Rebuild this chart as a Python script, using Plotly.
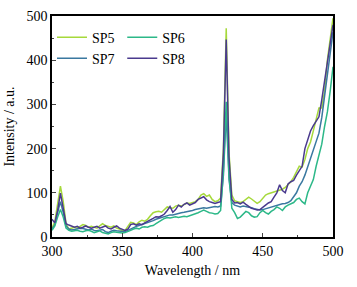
import plotly.graph_objects as go

wavelength = list(range(300, 501, 2))

sp5 = [20, 35, 75, 115, 80, 30, 18, 20, 22, 20, 25, 28, 26, 22, 24, 22, 20, 25, 30, 26,
       24, 22, 25, 20, 18, 14, 15, 25, 33, 32, 28, 34, 38, 36, 40, 48, 55, 57, 58, 56,
       62, 68, 66, 65, 70, 72, 70, 73, 77, 76, 78, 80, 85, 95, 98, 92, 95, 85, 80, 82,
       88, 200, 472, 190, 95, 82, 80, 78, 80, 85, 90, 86, 80, 76, 80, 88, 95, 98, 100, 102,
       104, 105, 108, 112, 118, 125, 135, 148, 160, 158, 175, 200, 215, 240, 270, 292, 292, 330, 400, 450,
       495]

sp6 = [15, 25, 45, 62, 45, 20, 15, 13, 14, 15, 13, 12, 14, 15, 13, 10, 12, 14, 10, 8,
       7, 10, 12, 11, 10, 9, 10, 12, 15, 18, 20, 18, 22, 23, 22, 25, 26, 30, 35, 38,
       42, 44, 43, 45, 46, 44, 45, 47, 46, 48, 50, 52, 55, 58, 61, 58, 55, 54, 52, 53,
       60, 150, 306, 140, 65, 55, 42, 45, 52, 58, 55, 48, 45, 46, 55, 60, 55, 52, 58, 62,
       68, 65, 60, 68, 72, 75, 78, 85, 88, 80, 75, 100, 117, 130, 160, 185, 210, 250, 283, 330,
       385]

sp7 = [18, 28, 55, 80, 55, 25, 18, 16, 17, 18, 20, 19, 17, 16, 18, 15, 14, 15, 17, 12,
       10, 13, 15, 14, 13, 12, 12, 15, 18, 22, 24, 26, 28, 30, 32, 35, 37, 40, 42, 44,
       47, 49, 50, 50, 52, 54, 55, 56, 57, 58, 60, 62, 63, 65, 66, 65, 66, 68, 69, 68,
       70, 140, 282, 130, 78, 72, 70, 68, 70, 69, 68, 66, 64, 62, 61, 62, 64, 66, 68, 70,
       72, 74, 75, 76, 78, 82, 90, 100, 115, 125, 140, 160, 177, 195, 215, 235, 270, 320, 358, 410,
       464]

sp8 = [40, 32, 60, 99, 65, 30, 27, 25, 22, 24, 20, 22, 25, 22, 20, 22, 24, 20, 22, 25,
       20, 18, 22, 25, 20, 17, 15, 18, 28, 30, 27, 30, 28, 32, 35, 38, 42, 46, 45, 48,
       52, 60, 69, 56, 62, 72, 68, 74, 77, 72, 75, 78, 85, 88, 91, 84, 80, 78, 76, 78,
       80, 190, 447, 180, 85, 77, 78, 75, 79, 74, 70, 65, 63, 61, 62, 66, 72, 77, 80, 90,
       100, 118, 105, 100, 120, 125, 128, 140, 150, 160, 200, 220, 240, 252, 262, 272, 310, 355, 400, 445,
       480]

series = [
    ("SP5", sp5, "#a6d93b", "legend"),
    ("SP7", sp7, "#3a78a0", "legend"),
    ("SP6", sp6, "#2cb888", "legend2"),
    ("SP8", sp8, "#4a3a8e", "legend2"),
]

fig = go.Figure()
for name, vals, color, leg in series:
    fig.add_trace(go.Scatter(x=wavelength, y=vals, mode="lines", name=name,
                             line=dict(color=color, width=1.5), legend=leg))

font = dict(family="Liberation Serif, Times New Roman, serif", size=14, color="black")
tickfont = dict(family="Liberation Serif, Times New Roman, serif", size=14, color="black")
legfont = dict(family="Liberation Serif, Times New Roman, serif", size=14, color="black")

fig.update_layout(
    width=357, height=287,
    margin=dict(l=52, r=24, t=16, b=50),
    paper_bgcolor="white", plot_bgcolor="white",
    font=font,
    showlegend=True,
    legend=dict(x=0.0, y=0.975, xanchor="left", yanchor="top", bgcolor="rgba(0,0,0,0)",
                font=legfont, tracegroupgap=0, itemwidth=30),
    legend2=dict(x=0.25, y=0.975, xanchor="left", yanchor="top", bgcolor="rgba(0,0,0,0)",
                 font=legfont, tracegroupgap=0, itemwidth=30),
    xaxis=dict(range=[300, 500], dtick=50, ticks="inside", ticklen=4, tickwidth=1,
               showline=True, linewidth=1.5, linecolor="black", mirror=True,
               showgrid=False, zeroline=False,
               minor=dict(dtick=25, ticks="inside", ticklen=2.5, tickwidth=1),
               title=dict(text="Wavelength / nm", font=font, standoff=8),
               tickfont=tickfont, automargin=False),
    yaxis=dict(range=[0, 500], dtick=100, ticks="inside", ticklen=4, tickwidth=1,
               showline=True, linewidth=1.5, linecolor="black", mirror=True,
               showgrid=False, zeroline=False,
               minor=dict(dtick=50, ticks="inside", ticklen=2.5, tickwidth=1),
               title=dict(text="Intensity / a.u.", font=font, standoff=9),
               tickfont=tickfont, automargin=False),
)

fig.write_html("out.html", config={"displayModeBar": False},
               post_script="document.body.style.margin='0';")
